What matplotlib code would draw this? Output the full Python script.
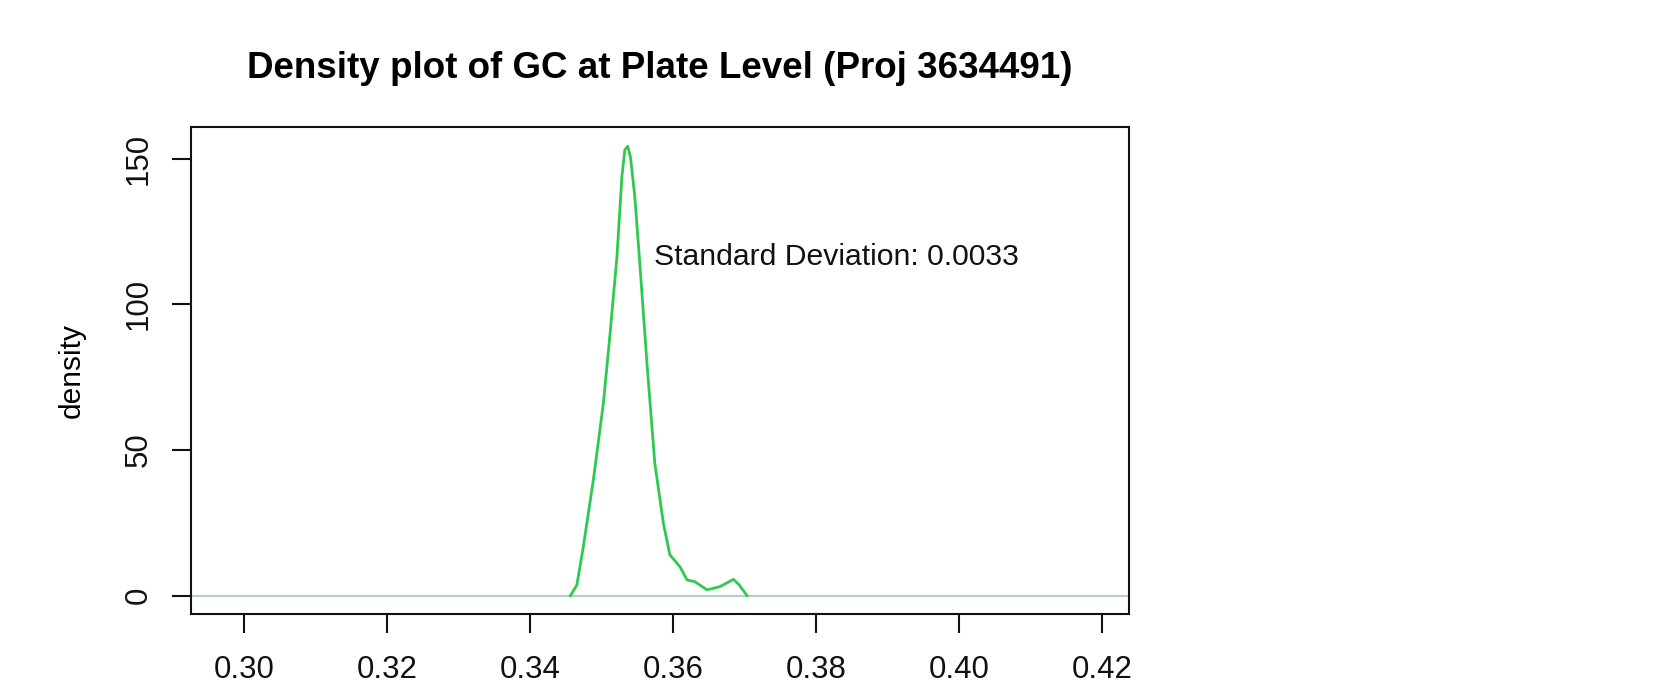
import matplotlib
matplotlib.use('Agg')
import matplotlib.pyplot as plt

# GC density curve
gc = [0.3456, 0.3465, 0.3474, 0.3488, 0.3502, 0.3511, 0.3521, 0.3528, 0.3532,
      0.3536, 0.3540, 0.3546, 0.3553, 0.3563, 0.3574, 0.3586, 0.3595, 0.3609,
      0.3619, 0.3630, 0.3647, 0.3665, 0.3684, 0.3692, 0.3703]
density = [0.0, 3.7, 16.8, 39.7, 66.0, 88.9, 116.3, 144.0, 153.0,
           154.3, 150.5, 136.9, 114.0, 79.7, 45.4, 24.8, 14.0, 10.0,
           5.4, 4.8, 2.0, 3.1, 5.6, 3.7, 0.0]

xticks = [0.30, 0.32, 0.34, 0.36, 0.38, 0.40, 0.42]
yticks = [0, 50, 100, 150]
sd_text = 'Standard Deviation: 0.0033'
title = 'Density plot of GC at Plate Level (Proj 3634491)'

plt.rcParams['font.family'] = ['Liberation Sans', 'DejaVu Sans']

fig = plt.figure(figsize=(16.59, 6.82), dpi=100)
ax = fig.add_axes([0.1154, 0.1001, 0.5651, 0.7137])

ax.axhline(0, color='#bccdd0', lw=1.6, zorder=1)
ax.plot(gc, density, color='#2fc94f', lw=2.0, zorder=2)
ax.text(0.3573, 116.2, sd_text, ha='left', va='center', fontsize=21.7, color='#111111')

ax.set_xlim(0.2926, 0.4237)
ax.set_ylim(-6.2, 160.9)
ax.set_xticks(xticks)
ax.set_xticklabels(['%.2f' % v for v in xticks])
ax.set_yticks(yticks)
ax.set_yticklabels([str(v) for v in yticks], rotation=90, va='center')

ax.tick_params(axis='both', length=13.5, width=1.5, labelsize=22.5, colors='#111111')
ax.tick_params(axis='x', pad=16)
ax.tick_params(axis='y', pad=14)
for s in ax.spines.values():
    s.set_linewidth(1.5)
    s.set_color('#111111')

ax.set_ylabel('density', fontsize=21.5, labelpad=27)
ax.set_title(title, fontsize=26.5, fontweight='bold', pad=35)

fig.savefig('out.png', dpi=100)
